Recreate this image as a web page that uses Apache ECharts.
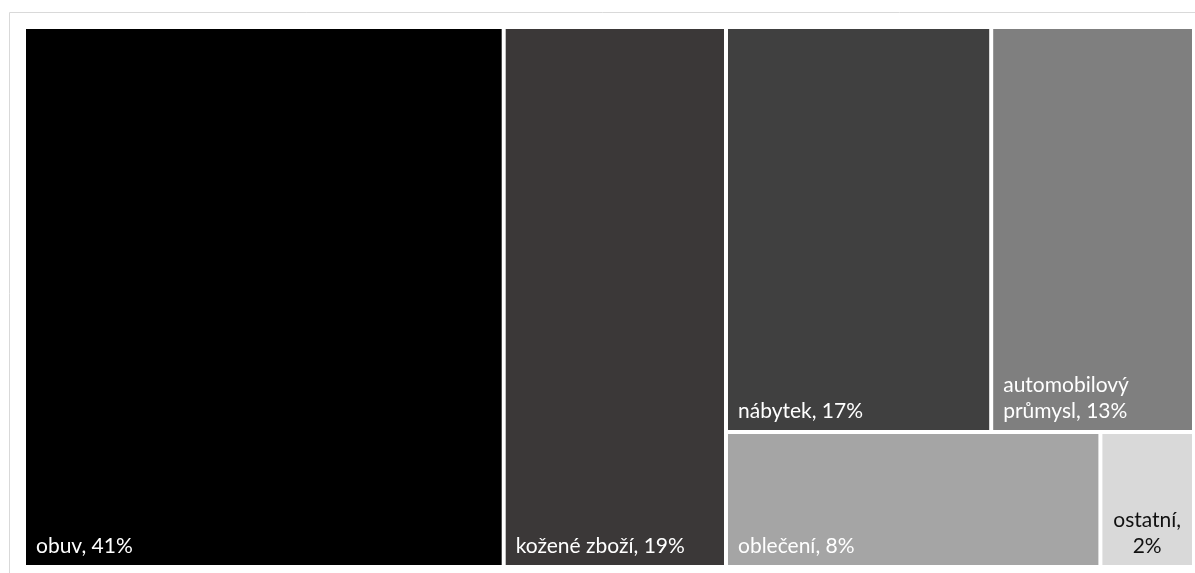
<!DOCTYPE html>
<html>
<head>
<meta charset="utf-8">
<script src="https://cdn.jsdelivr.net/npm/echarts@6/dist/echarts.min.js"></script>
<style>
  html, body { margin: 0; padding: 0; background: #fff; }
  #chart { width: 1195px; height: 573px; }
</style>
</head>
<body>
<div id="chart"></div>
<script>
const names = ['obuv', 'kožené zboží', 'nábytek', 'automobilový průmysl', 'oblečení', 'ostatní']
const values = [41, 19, 17, 13, 8, 2]
const colors = ['#000000', '#3b3838', '#404040', '#7f7f7f', '#a5a5a5', '#d9d9d9']
const labelColors = ['#ffffff', '#ffffff', '#ffffff', '#ffffff', '#ffffff', '#111111']

// where the label text goes to a second line: 'none', 'name' (inside the name), 'value' (before the value)
const labelWrap = ['none', 'none', 'none', 'name', 'none', 'value']

const fmt = p => {
  const w = p.data.wrap
  const name = w === 'name' ? p.name.replace(' ', '\n') : p.name
  return name + (w === 'value' ? ',\n' : ', ') + p.value + '%'
}

const leaf = (i, extraLabel) => ({
  name: names[i],
  value: values[i],
  wrap: labelWrap[i],
  itemStyle: { color: colors[i], borderWidth: 2, borderColor: '#fff' },
  label: Object.assign({ color: labelColors[i] }, extraLabel || {})
})

// nested so that squarify gives the same blocks as the original
const treeData = [
  leaf(0),
  {
    name: 'rest',
    children: [
      leaf(1),
      {
        name: 'group',
        children: [
          { name: 'top', children: [leaf(2), leaf(3)] },
          { name: 'bottom', children: [leaf(4), leaf(5, { position: 'insideBottom', align: 'center', padding: [0, 0, 6, 0] })] }
        ]
      }
    ]
  }
]

const chart = echarts.init(document.getElementById('chart'))

chart.setOption({
  animation: false,
  graphic: [{
    type: 'rect',
    shape: { x: 9.5, y: 12.5, width: 1220, height: 600 },
    style: { fill: 'none', stroke: '#d9d9d9', lineWidth: 1 },
    silent: true
  }],
  series: [{
    type: 'treemap',
    left: 24,
    top: 27,
    width: 1170,
    height: 540,
    sort: false,
    squareRatio: 1,
    roam: false,
    nodeClick: false,
    breadcrumb: { show: false },
    itemStyle: { borderWidth: 0, gapWidth: 0, borderColor: '#fff' },
    upperLabel: { show: false },
    label: {
      show: true,
      position: 'insideBottomLeft',
      distance: 0,
      padding: [0, 0, 6, 10],
      fontFamily: 'Lato',
      fontSize: 21,
      lineHeight: 26,
      overflow: 'none',
      formatter: fmt
    },
    data: treeData
  }]
})
</script>
</body>
</html>
